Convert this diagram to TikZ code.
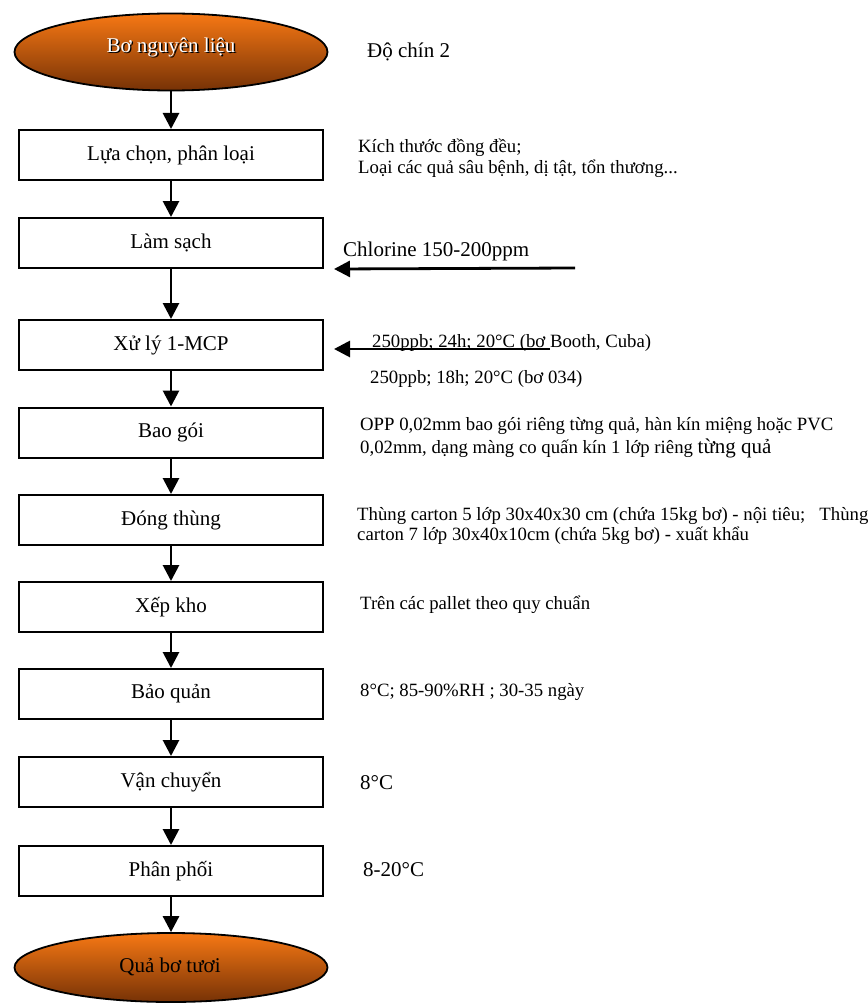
\documentclass[tikz,border=0pt]{standalone}
\usepackage{fontspec}
\setmainfont{Liberation Serif}
\usetikzlibrary{shapes.geometric,arrows.meta}
\definecolor{orTop}{RGB}{247,120,20}
\definecolor{orMid}{RGB}{218,96,14}
\definecolor{orBot}{RGB}{118,50,6}
\begin{document}
\begin{tikzpicture}[x=1pt,y=-1pt,
  stepbox/.style={draw,line width=2pt,minimum width=304pt,minimum height=50pt,inner sep=0pt,font=\fontsize{21}{25}\selectfont},
  endbox/.style={ellipse,draw,line width=1.8pt,minimum width=313pt,inner sep=0pt,top color=orTop,middle color=orMid,bottom color=orBot},
  boxtext/.style={inner sep=0pt,font=\fontsize{21}{25}\selectfont},
  arr/.style={line width=2.8pt,-{Triangle[width=16pt,length=16pt]}},
  note/.style={anchor=base west,inner sep=0pt,font=\fontsize{18.75}{23}\selectfont},
  bignote/.style={anchor=base west,inner sep=0pt,font=\fontsize{21}{25}\selectfont}]
\useasboundingbox (0,0) rectangle (867,1003);

% start / end ellipses
\node[endbox,minimum height=77pt] (start) at (171,52) {};
\node[boxtext,text=black] (startsh) at (172.4,48.4) {Bơ nguyên liệu};
\node[boxtext,text=white] (starttx) at (171,47) {Bơ nguyên liệu};

\node[endbox,minimum height=69pt] (finish) at (171,967.5) {};
\node[boxtext] (finishtx) at (170,967) {Quả bơ tươi};

% process boxes
\node[stepbox] (b1) at (171,155) {Lựa chọn, phân loại};
\node[stepbox] (b2) at (171,243) {Làm sạch};
\node[stepbox] (b3) at (171,345) {Xử lý 1-MCP};
\node[stepbox] (b4) at (171,432.5) {Bao gói};
\node[stepbox] (b5) at (171,520) {Đóng thùng};
\node[stepbox] (b6) at (171,607) {Xếp kho};
\node[stepbox] (b7) at (171,694) {Bảo quản};
\node[stepbox] (b8) at (171,782) {Vận chuyển};
\node[stepbox] (b9) at (171,871) {Phân phối};

% vertical flow
\draw[arr] (start) -- (b1);
\draw[arr] (b1) -- (b2);
\draw[arr] (b2) -- (b3);
\draw[arr] (b3) -- (b4);
\draw[arr] (b4) -- (b5);
\draw[arr] (b5) -- (b6);
\draw[arr] (b6) -- (b7);
\draw[arr] (b7) -- (b8);
\draw[arr] (b8) -- (b9);
\draw[arr] (b9) -- (finish);

% side inputs
\coordinate (clsrc) at (575,268);
\draw[arr] (clsrc) -- ([xshift=10pt]b2.south east);
\coordinate (mcpsrc) at (550,349);
\draw[arr] (mcpsrc) -- ([shift={(10,4)}]b3.east);

% annotations
\node[bignote] (n0) at (367,58) {Độ chín 2};
\node[note] (n1a) at (358,153) {Kích thước đồng đều;};
\node[note] (n1b) at (358,174) {Loại các quả sâu bệnh, dị tật, tổn thương...};
\node[bignote] (n2) at (343,256) {Chlorine 150-200ppm};
\node[note] (n3a) at (372,347) {250ppb; 24h; 20°C (bơ Booth, Cuba)};
\node[note] (n3b) at (370,383) {250ppb; 18h; 20°C (bơ 034)};
\node[note] (n4a) at (360,430) {OPP 0,02mm bao gói riêng từng quả, hàn kín miệng hoặc PVC};
\node[note] (n4b) at (360,453) {0,02mm, dạng màng co quấn kín 1 lớp riêng {\fontsize{21}{25}\selectfont từng quả}};
\node[note] (n5a) at (357,520) {Thùng carton 5 lớp 30x40x30 cm (chứa 15kg bơ) - nội tiêu;\ \ \ Thùng};
\node[note] (n5b) at (357,540) {carton 7 lớp 30x40x10cm (chứa 5kg bơ) - xuất khẩu};
\node[note] (n6) at (360,609) {Trên các pallet theo quy chuẩn};
\node[note] (n7) at (360,696) {8°C; 85-90\%RH ; 30-35 ngày};
\node[bignote] (n8) at (360,789) {8°C};
\node[bignote] (n9) at (363,876) {8-20°C};
\end{tikzpicture}
\end{document}
